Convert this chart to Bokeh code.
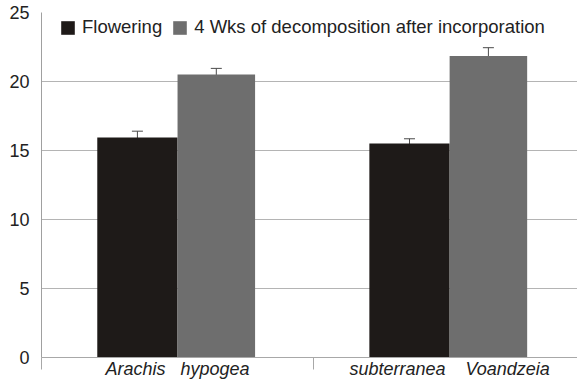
from bokeh.plotting import figure
from bokeh.models import Range1d, FixedTicker, ColumnDataSource, Whisker, Legend, LegendItem
from bokeh.embed import file_html
from bokeh.resources import INLINE

categories = ["Arachis\u00a0\u00a0 hypogea", "subterranea\u00a0\u00a0\u00a0 Voandzeia"]
series_names = ["Flowering", "4 Wks of decomposition after incorporation"]
flowering = [15.95, 15.5]
flowering_err = [0.45, 0.35]
decomposition = [20.5, 21.85]
decomposition_err = [0.45, 0.6]
y_ticks = [0, 5, 10, 15, 20, 25]

FONT = "Liberation Sans"
black = "#1e1a18"
gray = "#6e6e6e"

p = figure(width=577, height=381, output_backend="svg", toolbar_location=None,
           x_range=Range1d(0, 1.97), y_range=Range1d(0, 25),
           min_border_left=41, min_border_right=0, min_border_top=12, min_border_bottom=22)
p.outline_line_color = None
p.background_fill_color = "white"
p.border_fill_color = "white"

centers = [i + 0.5 for i in range(len(categories))]
x_f = [c - 0.1475 for c in centers]
x_d = [c + 0.1425 for c in centers]

src_f = ColumnDataSource(dict(x=x_f, top=flowering,
                              lo=[v - e for v, e in zip(flowering, flowering_err)],
                              hi=[v + e for v, e in zip(flowering, flowering_err)]))
src_d = ColumnDataSource(dict(x=x_d, top=decomposition,
                              lo=[v - e for v, e in zip(decomposition, decomposition_err)],
                              hi=[v + e for v, e in zip(decomposition, decomposition_err)]))

r_f = p.vbar(x="x", top="top", width=0.295, source=src_f, fill_color=black, line_color=None)
r_d = p.vbar(x="x", top="top", width=0.285, source=src_d, fill_color=gray, line_color=None)

for src in (src_f, src_d):
    w = Whisker(base="x", lower="lo", upper="hi", source=src, line_color="#4a4a4a", line_width=1)
    w.upper_head.size = 11
    w.lower_head.size = 11
    w.upper_head.line_color = "#4a4a4a"
    w.lower_head.line_color = "#4a4a4a"
    p.add_layout(w)

# grid
p.xgrid.grid_line_color = None
p.ygrid.ticker = FixedTicker(ticks=y_ticks)
p.ygrid.grid_line_color = "#b4b4b4"
p.ygrid.grid_line_width = 1

# y axis
p.yaxis.ticker = FixedTicker(ticks=y_ticks)
p.yaxis.axis_line_color = "#a0a0a0"
p.yaxis.major_tick_line_color = None
p.yaxis.minor_tick_line_color = None
p.yaxis.major_label_text_font = FONT
p.yaxis.major_label_text_font_size = "18px"
p.yaxis.major_label_text_color = "#222222"
p.yaxis.major_label_standoff = 6

# x axis
p.xaxis.ticker = FixedTicker(ticks=centers, minor_ticks=[0, 1, 2])
p.xaxis.major_label_overrides = {c: lab for c, lab in zip(centers, categories)}
p.xaxis.axis_line_color = "#a8a8a8"
p.xaxis.major_tick_line_color = None
p.xaxis.minor_tick_line_color = "#a8a8a8"
p.xaxis.minor_tick_out = 12
p.xaxis.minor_tick_in = 0
p.xaxis.major_tick_out = 0
p.xaxis.major_label_text_font = FONT
p.xaxis.major_label_text_font_style = "italic"
p.xaxis.major_label_text_font_size = "18px"
p.xaxis.major_label_text_color = "#222222"
p.xaxis.major_label_standoff = -11

legend = Legend(items=[LegendItem(label=series_names[0], renderers=[r_f]),
                       LegendItem(label=series_names[1], renderers=[r_d])],
                orientation="horizontal", location=(18, 319),
                padding=5, margin=0, spacing=9, label_standoff=6,
                glyph_width=17, glyph_height=17, label_height=20,
                label_text_font=FONT, label_text_font_size="18.5px",
                label_text_color="#222222", border_line_color=None,
                background_fill_alpha=0)
p.add_layout(legend)

open("out.html", "w").write(file_html(p, INLINE))
